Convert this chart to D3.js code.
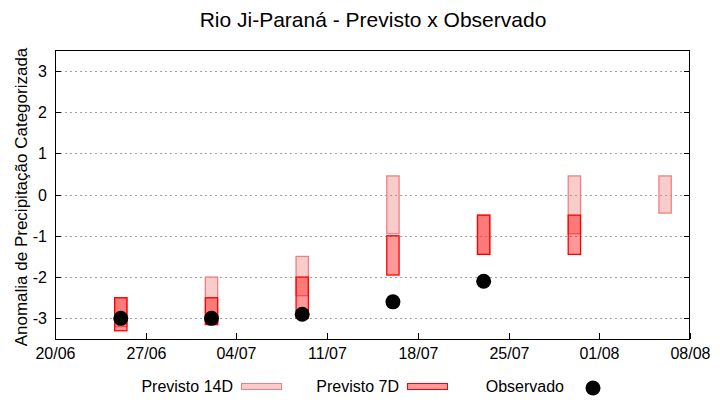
<!DOCTYPE html>
<html><head><meta charset="utf-8">
<script src="https://cdn.jsdelivr.net/npm/d3@7"></script>
<style>body{margin:0;background:#fff}svg{display:block;font-family:"Liberation Sans",Arial,sans-serif}</style>
</head><body><svg id="c" width="720" height="400"></svg>
<script>
const title = "Rio Ji-Paraná - Previsto x Observado";
const yLabel = "Anomalia de Precipitação Categorizada";
const forecastDates = ["2024-06-25","2024-07-02","2024-07-09","2024-07-16","2024-07-23","2024-07-30","2024-08-06"];
const prev14Top    = [-2.5, -2.0, -1.5, 0.45, -0.5, 0.45, 0.45];
const prev14Bottom = [-3.2, -3.15, -2.45, -0.95, -1.45, -0.95, -0.45];
const prev7Top     = [-2.5, -2.5, -2.0, -1.0, -0.5, -0.5, null];
const prev7Bottom  = [-3.3, -3.15, -3.0, -1.95, -1.45, -1.45, null];
const obsDates = ["2024-06-25","2024-07-02","2024-07-09","2024-07-16","2024-07-23"];
const observed = [-3.0, -3.0, -2.9, -2.6, -2.1];
const xTickDates = ["2024-06-20","2024-06-27","2024-07-04","2024-07-11","2024-07-18","2024-07-25","2024-08-01","2024-08-08"];
const yTicks = [-3,-2,-1,0,1,2,3];
const legendLabels = ["Previsto 14D","Previsto 7D","Observado"];

const parse = d3.utcParse("%Y-%m-%d");
const fmt = d3.utcFormat("%d/%m");
const L=55,R=690,T=50,B=339;
const svg = d3.select("#c");
const x = d3.scaleUtc().domain([parse(xTickDates[0]), parse(xTickDates[xTickDates.length-1])]).range([L,R]);
const y = d3.scaleLinear().domain([-3.5,3.5]).range([B,T]);
const dayPx = x(parse("2024-06-21")) - x(parse("2024-06-20"));
const bw = dayPx*0.95;

// grid
svg.append("g").selectAll("line").data(yTicks).join("line")
  .attr("x1",L).attr("x2",R).attr("y1",d=>Math.round(y(d))+0.5).attr("y2",d=>Math.round(y(d))+0.5)
  .attr("stroke","#a0a0a0").attr("stroke-width",1).attr("stroke-dasharray","2,3");

// 14D boxes
const d14 = forecastDates.map((d,i)=>({d:parse(d),t:prev14Top[i],b:prev14Bottom[i]})).filter(o=>o.t!=null);
svg.append("g").selectAll("rect").data(d14).join("rect")
  .attr("x",o=>x(o.d)-bw/2+1).attr("width",bw)
  .attr("y",o=>y(o.t)).attr("height",o=>y(o.b)-y(o.t))
  .attr("fill","rgba(240,128,128,0.4)").attr("stroke","#f08080").attr("stroke-width",1.3);
// 7D boxes
const d7 = forecastDates.map((d,i)=>({d:parse(d),t:prev7Top[i],b:prev7Bottom[i]})).filter(o=>o.t!=null);
svg.append("g").selectAll("rect").data(d7).join("rect")
  .attr("x",o=>x(o.d)-bw/2+1).attr("width",bw)
  .attr("y",o=>y(o.t)).attr("height",o=>y(o.b)-y(o.t))
  .attr("fill","rgba(255,0,0,0.4)").attr("stroke","#ff0000").attr("stroke-width",1.3);
// observed
svg.append("g").selectAll("circle").data(obsDates.map((d,i)=>({d:parse(d),v:observed[i]}))).join("circle")
  .attr("cx",o=>x(o.d)+1).attr("cy",o=>y(o.v)).attr("r",7.5).attr("fill","#000");

// border
svg.append("rect").attr("x",L+0.5).attr("y",T+0.5).attr("width",R-L-1).attr("height",B-T)
  .attr("fill","none").attr("stroke","#000").attr("stroke-width",1);

// y ticks
const yt = svg.append("g");
yTicks.forEach(v=>{
  const yy=Math.round(y(v))+0.5;
  yt.append("line").attr("x1",L).attr("x2",L+6).attr("y1",yy).attr("y2",yy).attr("stroke","#000");
  yt.append("line").attr("x1",R-6).attr("x2",R).attr("y1",yy).attr("y2",yy).attr("stroke","#000");
  yt.append("text").attr("x",47).attr("y",yy).attr("dy","0.35em").attr("text-anchor","end")
    .attr("font-size",16).attr("fill","#000").text(v);
});
// x ticks
const xt = svg.append("g");
xTickDates.forEach(s=>{
  const xx=Math.round(x(parse(s)))+0.5;
  xt.append("line").attr("x1",xx).attr("x2",xx).attr("y1",B).attr("y2",B-6).attr("stroke","#000");
  xt.append("text").attr("x",xx).attr("y",359).attr("text-anchor","middle")
    .attr("font-size",16).attr("fill","#000").text(fmt(parse(s)));
});

// title
svg.append("text").attr("x",373).attr("y",27).attr("text-anchor","middle").attr("font-size",21).attr("fill","#000").text(title);
// y label
svg.append("text").attr("transform","translate(27,197) rotate(-90)").attr("text-anchor","middle")
  .attr("font-size",17).attr("fill","#000").text(yLabel);

// legend
const lg = svg.append("g");
lg.append("text").attr("x",233).attr("y",392).attr("text-anchor","end").attr("font-size",16).text(legendLabels[0]);
lg.append("rect").attr("x",241.5).attr("y",383.5).attr("width",40).attr("height",6)
  .attr("fill","rgba(240,128,128,0.4)").attr("stroke","#f08080");
lg.append("text").attr("x",399).attr("y",392).attr("text-anchor","end").attr("font-size",16).text(legendLabels[1]);
lg.append("rect").attr("x",407.5).attr("y",383.5).attr("width",40).attr("height",6)
  .attr("fill","rgba(255,0,0,0.4)").attr("stroke","#ff0000");
lg.append("text").attr("x",564).attr("y",392).attr("text-anchor","end").attr("font-size",16).text(legendLabels[2]);
lg.append("circle").attr("cx",593).attr("cy",388).attr("r",7.5).attr("fill","#000");
</script></body></html>
